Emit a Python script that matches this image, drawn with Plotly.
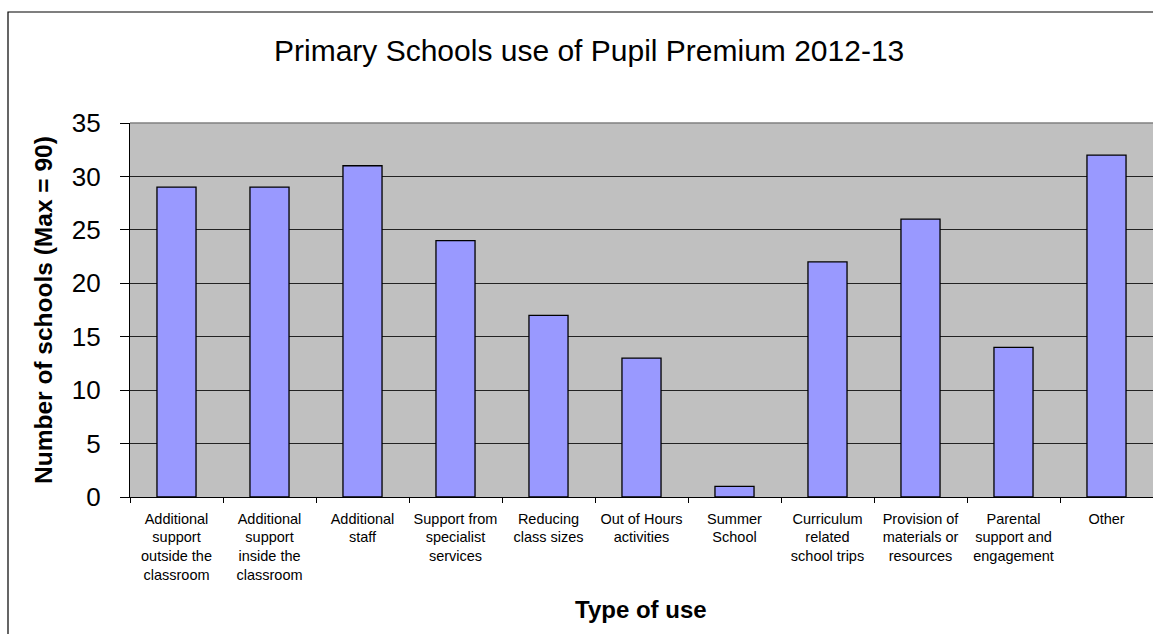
import plotly.graph_objects as go

categories = [
    "Additional<br>support<br>outside the<br>classroom",
    "Additional<br>support<br>inside the<br>classroom",
    "Additional<br>staff",
    "Support from<br>specialist<br>services",
    "Reducing<br>class sizes",
    "Out of Hours<br>activities",
    "Summer<br>School",
    "Curriculum<br>related<br>school trips",
    "Provision of<br>materials or<br>resources",
    "Parental<br>support and<br>engagement",
    "Other",
]
values = [29, 29, 31, 24, 17, 13, 1, 22, 26, 14, 32]
y_ticks = [0, 5, 10, 15, 20, 25, 30, 35]

W, H = 1153, 634
L, R, T, B = 130, 0, 123, 137
pw = W - L - R
ph = H - T - B

def px_x(x):
    return (x - L) / pw

def px_y(y):
    return (H - B - y) / ph

FONT = "Arial, Liberation Sans, sans-serif"

fig = go.Figure(
    go.Bar(
        x=categories,
        y=values,
        marker=dict(color="#9999FF", line=dict(color="#000000", width=1.3)),
        width=0.42,
        hoverinfo="skip",
    )
)

fig.update_layout(
    width=W,
    height=H,
    margin=dict(l=L, r=R, t=T, b=B),
    paper_bgcolor="white",
    plot_bgcolor="#C0C0C0",
    showlegend=False,
    font=dict(family=FONT, color="black"),
)

fig.update_xaxes(
    type="category",
    tickson="boundaries",
    ticks="outside",
    ticklen=5,
    tickcolor="black",
    showline=True,
    linecolor="black",
    linewidth=1.3,
    showgrid=False,
    tickfont=dict(size=14.5, family=FONT),
    ticklabelstandoff=8,
)
fig.update_yaxes(
    range=[0, 35],
    tickvals=y_ticks,
    ticks="outside",
    ticklen=9,
    tickcolor="black",
    showline=True,
    linecolor="black",
    linewidth=1.3,
    showgrid=True,
    gridcolor="#222222",
    gridwidth=1,
    zeroline=False,
    tickfont=dict(size=26, family=FONT),
    ticklabelstandoff=14,
)

shapes = [
    dict(type="line", xref="paper", yref="paper", x0=0, x1=1, y0=1, y1=1,
         line=dict(color="#808080", width=1.5)),
    dict(type="rect", xref="paper", yref="paper",
         x0=px_x(8), x1=px_x(1170), y0=px_y(660), y1=px_y(12),
         line=dict(color="black", width=1.2), fillcolor="rgba(0,0,0,0)",
         layer="below"),
]
fig.update_layout(shapes=shapes)

annotations = [
    dict(text="Primary Schools use of Pupil Premium 2012-13",
         xref="paper", yref="paper", x=px_x(589), y=px_y(50),
         xanchor="center", yanchor="middle", showarrow=False,
         font=dict(size=30, family=FONT, color="black")),
    dict(text="<b>Type of use</b>",
         xref="paper", yref="paper", x=px_x(641), y=px_y(609),
         xanchor="center", yanchor="middle", showarrow=False,
         font=dict(size=24, family=FONT, color="black")),
    dict(text="<b>Number of schools (Max = 90)</b>",
         xref="paper", yref="paper", x=px_x(43), y=px_y(310),
         xanchor="center", yanchor="middle", showarrow=False, textangle=-90,
         font=dict(size=24.5, family=FONT, color="black")),
]
fig.update_layout(annotations=annotations)

fig.write_html(
    "out.html",
    config={"displayModeBar": False},
    post_script="document.body.style.margin='0';document.body.style.overflow='hidden';",
)
